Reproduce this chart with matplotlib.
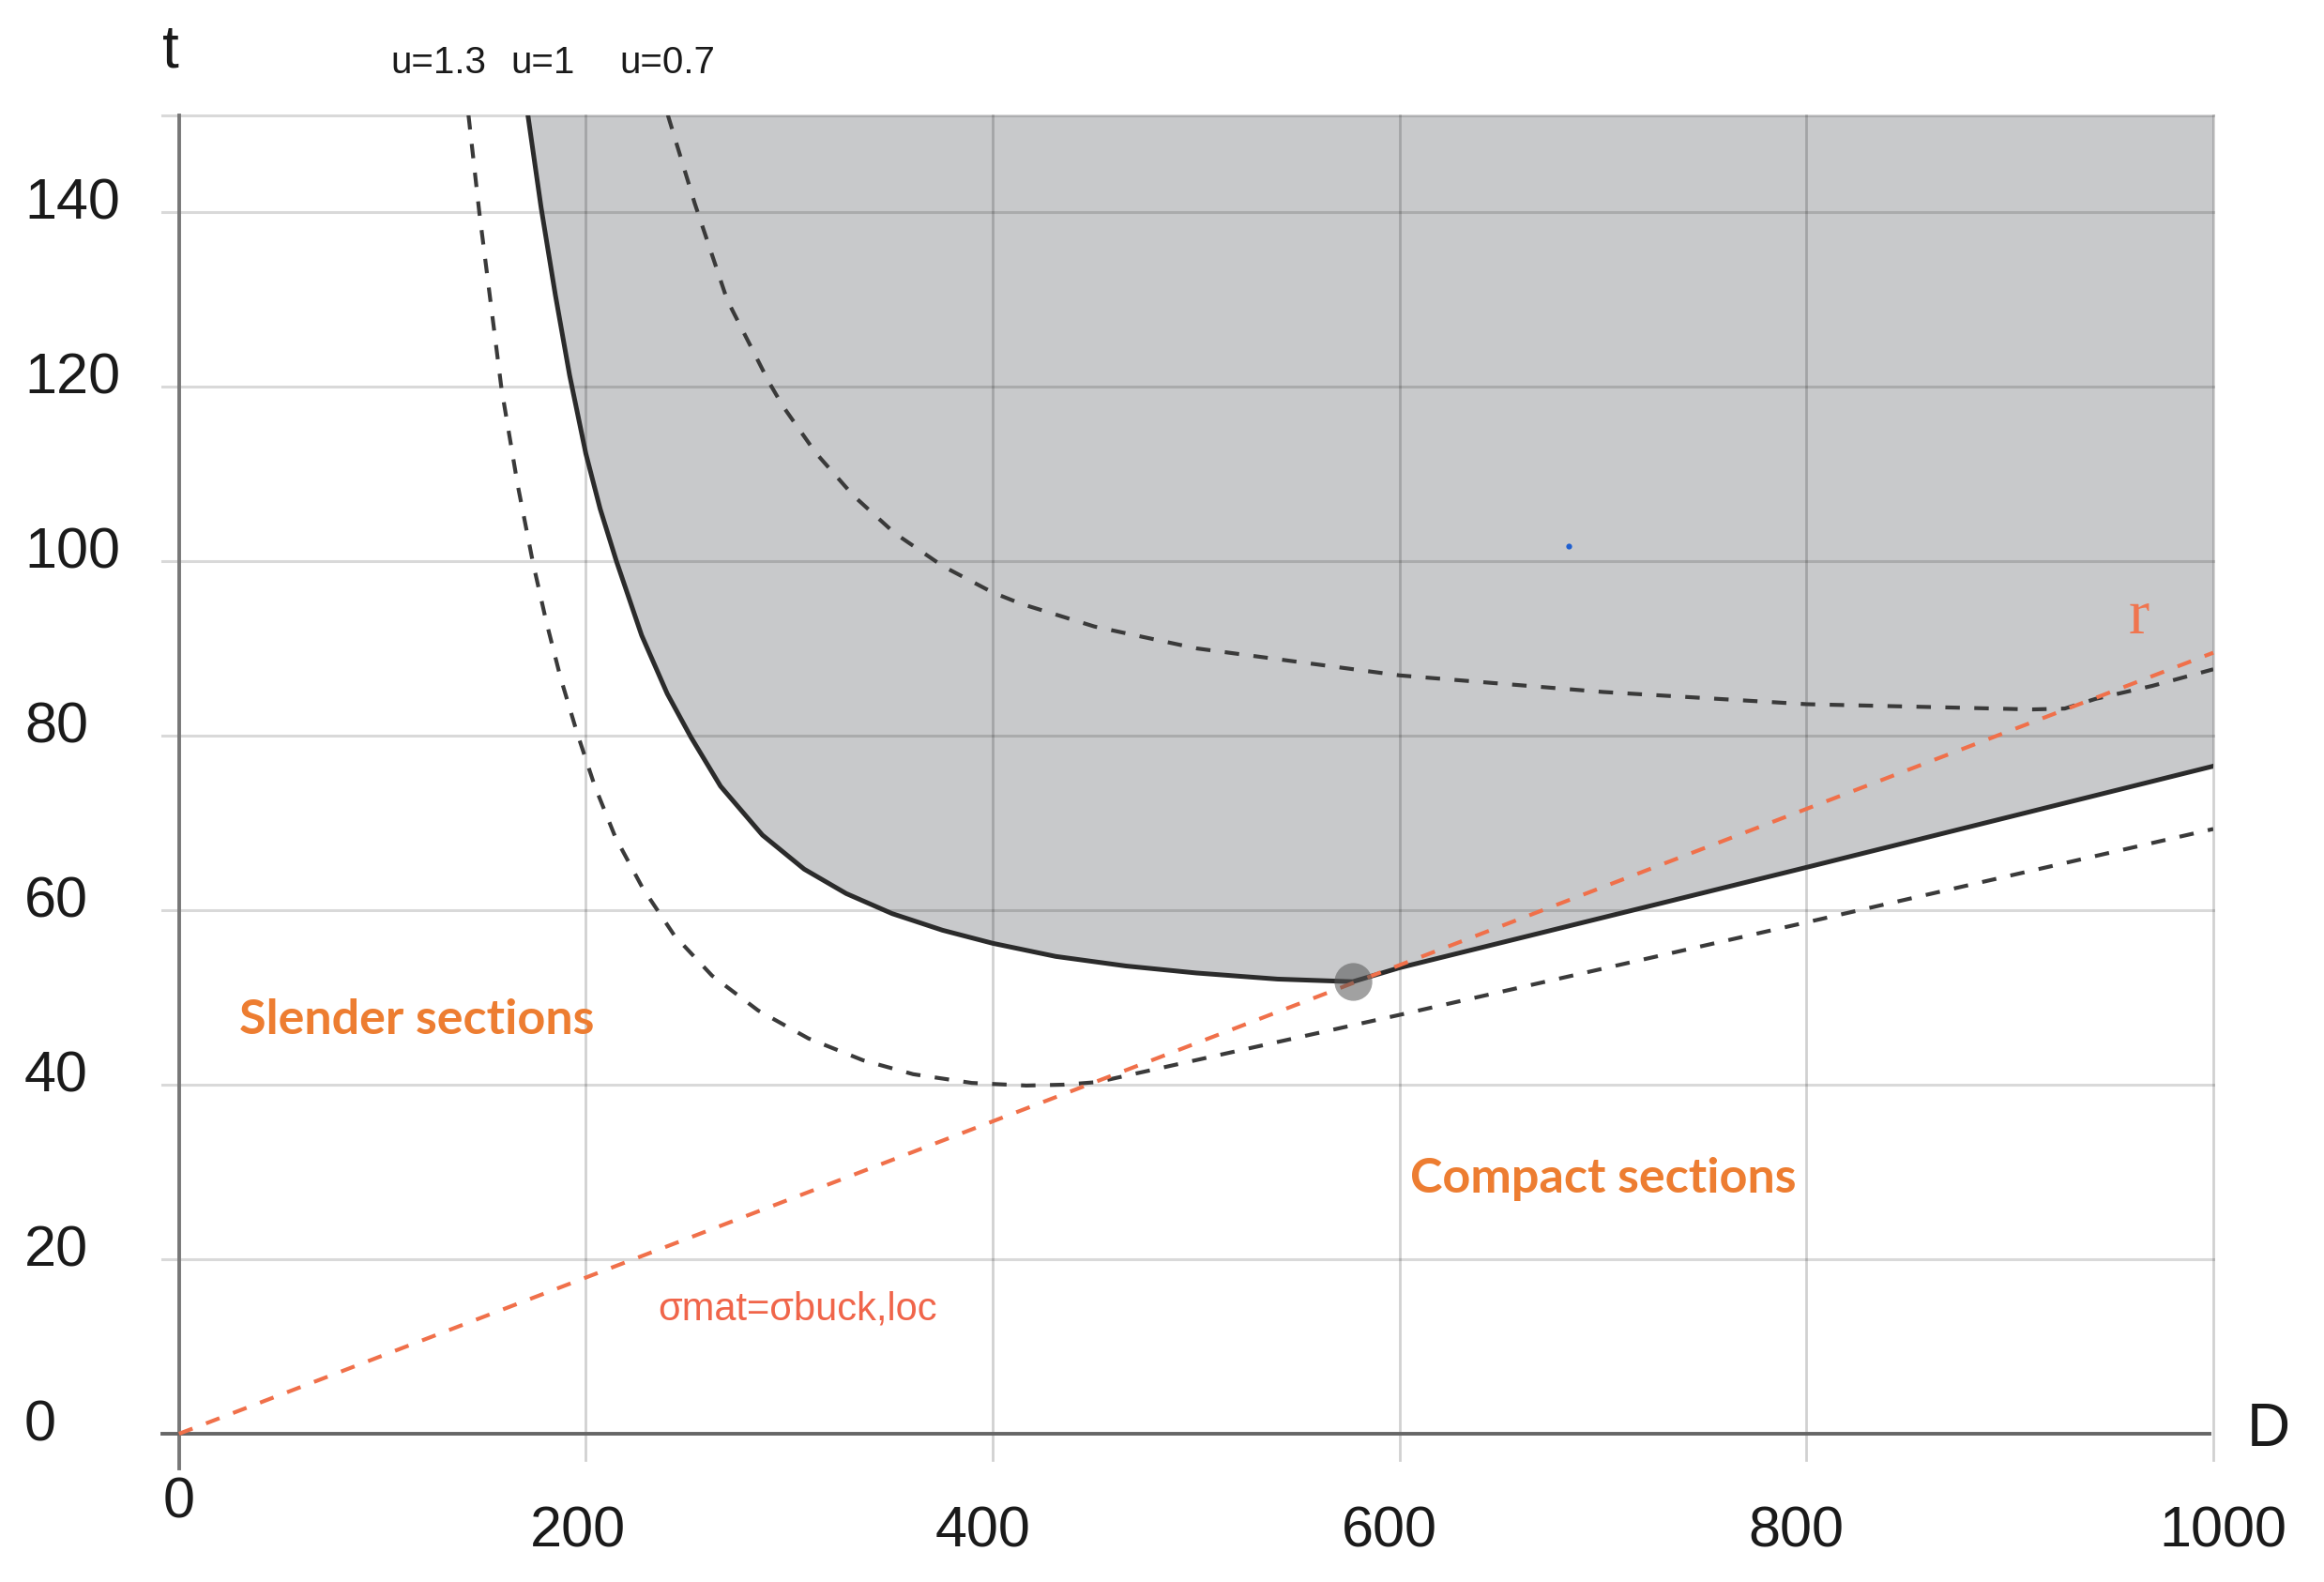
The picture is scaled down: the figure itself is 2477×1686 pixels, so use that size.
import numpy as np
import matplotlib
matplotlib.use("Agg")
import matplotlib.pyplot as plt

# curves
D_u1 = [171.5, 178, 185, 192, 200, 207, 215, 227.4, 240, 251.7, 266.2, 286.8, 307.3, 328, 350.6, 375.3, 400,
        430.9, 465.5, 500, 540, 577, 600, 800, 1000]
t_u1 = [151.1, 140.5, 130.5, 121.3, 112.3, 106, 100, 91.5, 84.8, 79.8, 74.2, 68.6, 64.7, 61.9, 59.6, 57.7, 56.2,
        54.7, 53.6, 52.8, 52.1, 51.8, 53.4, 64.9, 76.5]

D_u07 = [240.3, 253.5, 269.5, 290, 297, 313, 331.5, 351.8, 375.6, 400, 414, 450, 500, 600, 700, 800, 856, 911, 927, 942, 970, 1000]
t_u07 = [151.1, 141, 129.9, 120.5, 117.7, 112.4, 107.5, 103.2, 99.4, 96.4, 95.1, 92.5, 90, 86.9, 85, 83.6, 83.3, 83, 83.1, 84.2, 85.7, 87.6]

D_u13 = [142.3, 147.6, 158.5, 166.5, 174, 180.6, 187.6, 195.7, 204.4, 214.6, 228, 243.5, 262, 284.7, 309.4,
         336.2, 360.9, 389.7, 416.5, 435, 451.5, 600, 800, 1000]
t_u13 = [151.1, 140, 119.8, 108.7, 99.8, 93, 86.6, 80.3, 74.2, 68.3, 62.5, 57.1, 52.5, 48.5, 45.3,
         42.8, 41.2, 40.2, 39.9, 40, 40.3, 48, 58.6, 69.3]

D_r = [0, 1000]
t_r = [0, 89.5]

D_point = 577
t_point = 51.8

x_ticks = [0, 200, 400, 600, 800, 1000]
y_ticks = [0, 20, 40, 60, 80, 100, 120, 140]
t_top = 151.1

plt.rcParams["font.family"] = ["Liberation Sans", "DejaVu Sans"]

fig = plt.figure(figsize=(24.77, 16.86), dpi=100)
ax = fig.add_axes([190.8 / 2477, 1 - 1528 / 1686, (2359 - 190.8) / 2477, (1528 - 122.7) / 1686])
ax.set_xlim(0, 1000)
ax.set_ylim(0, t_top)
ax.axis("off")

# shaded region above the u=1 curve
ax.fill_between(D_u1, t_u1, t_top, color="#c8c9cb", lw=0, zorder=1)

# grid
for y in y_ticks[1:] + [t_top]:
    ax.plot([-8, 1000], [y, y], color="black", alpha=0.15, lw=2.2, zorder=2, clip_on=False)
for x in x_ticks[1:]:
    ax.plot([x, x], [-3, t_top], color="black", alpha=0.18, lw=2.0, zorder=2, clip_on=False)

# axes lines
ax.plot([0, 0], [-4, t_top], color="#777777", lw=2.8, zorder=3, clip_on=False)
ax.plot([-8, 998], [0, 0], color="#666666", lw=2.8, zorder=3, clip_on=False)

dash = (0, (3.7, 3.7))
ax.plot(D_u13, t_u13, color="#3a3a3a", lw=3, ls=dash, zorder=4)
ax.plot(D_u07, t_u07, color="#3a3a3a", lw=3, ls=dash, zorder=4)
ax.plot(D_u1, t_u1, color="#2b2b2b", lw=3.6, zorder=5)
ax.plot(D_r, t_r, color="#f0704a", lw=3, ls=dash, zorder=6, clip_on=False)
ax.plot([D_point], [t_point], "o", color="#555555", alpha=0.55, ms=29, mew=0, zorder=7)
ax.plot([683], [101.7], "o", color="#2060d0", ms=4.5, mew=0, zorder=7)

# tick labels sit a bit off the grid lines in the original
for y in y_ticks:
    ax.text(-76, y + 0.9, str(y), fontsize=44, color="#1a1a1a", ha="left", va="center", clip_on=False)
for x, lab_x, lab_y in zip(x_ticks, [0, 196, 395, 595, 795, 1005], [-8, -11.3, -11.3, -11.3, -11.3, -11.3]):
    ax.text(lab_x, lab_y, str(x), fontsize=44, color="#1a1a1a", ha="center", va="center", clip_on=False)

ax.text(-4, 158.4, "t", fontsize=46, color="#1a1a1a", ha="center", va="center", clip_on=False)
ax.text(1027, 0.4, "D", fontsize=46, color="#1a1a1a", ha="center", va="center", clip_on=False)

ax.text(127.5, 157.1, "u=1.3", fontsize=29, color="#1a1a1a", ha="center", va="center", clip_on=False)
ax.text(179, 157.1, "u=1", fontsize=29, color="#1a1a1a", ha="center", va="center", clip_on=False)
ax.text(240, 157.1, "u=0.7", fontsize=29, color="#1a1a1a", ha="center", va="center", clip_on=False)

ax.text(117, 47.4, "Slender sections", fontsize=37.5, fontweight="bold", family="Lato",
        color="#ed7d31", ha="center", va="center")
ax.text(700, 29.2, "Compact sections", fontsize=37.5, fontweight="bold", family="Lato",
        color="#ed7d31", ha="center", va="center")
ax.text(304, 14.3, "σmat=σbuck,loc", fontsize=30, color="#f0654a", ha="center", va="center")
ax.text(963.6, 93.5, "r", fontsize=48, family="Liberation Serif",
        color="#f0754f", ha="center", va="center")

fig.savefig("out.png", dpi=100, facecolor="white")
